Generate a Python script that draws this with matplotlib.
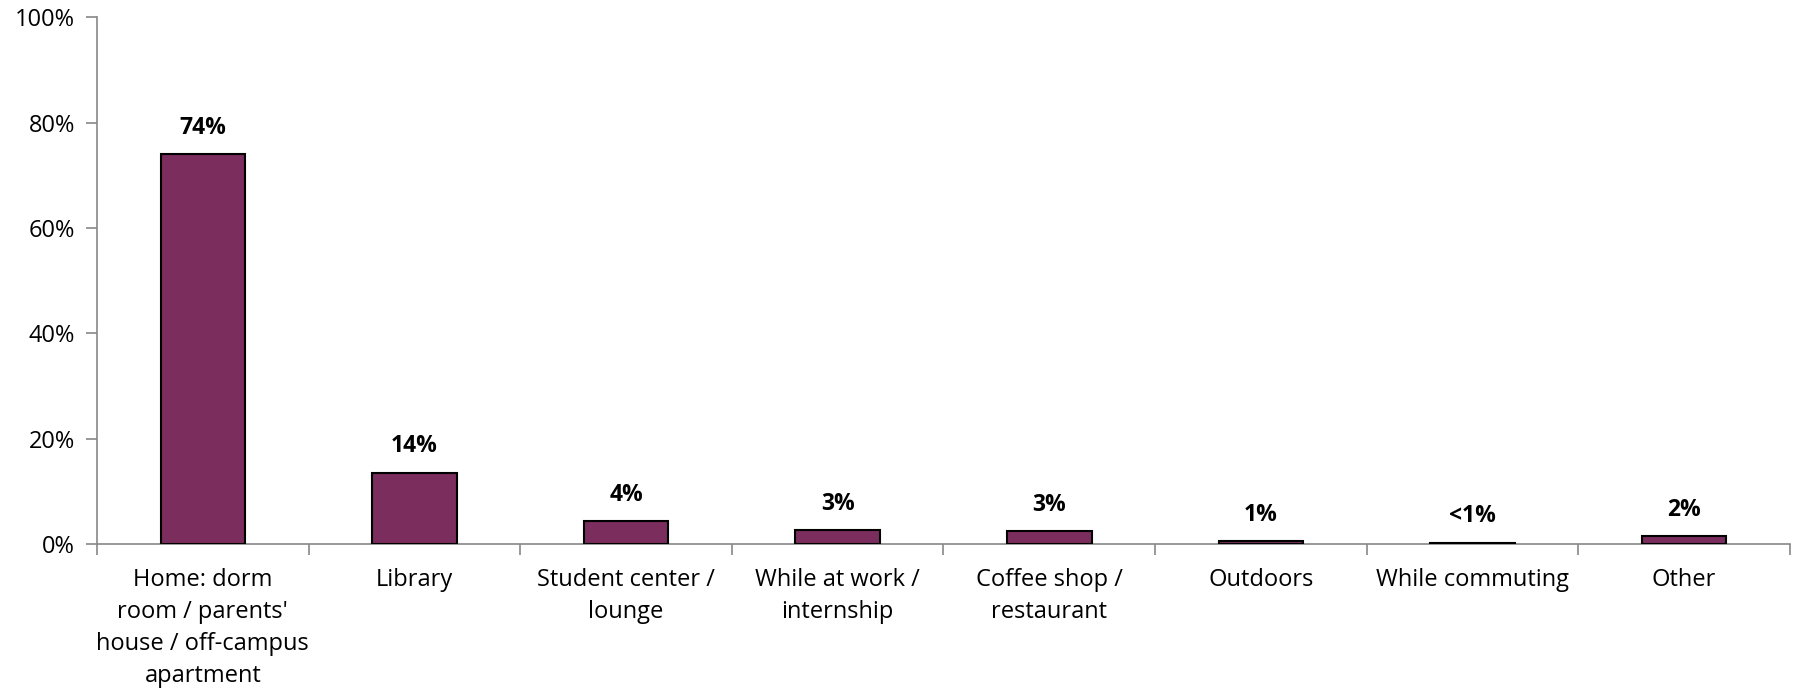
import matplotlib.pyplot as plt
import numpy as np

# Données
categories = ["Home: dorm\nroom / parents'\nhouse / off-campus\napartment",
              "Library", "Student center /\nlounge", "While at work /\ninternship",
              "Coffee shop /\nrestaurant", "Outdoors", "While commuting", "Other"]
values = [74, 13.6, 4.4, 2.7, 2.5, 0.6, 0.3, 1.5]
labels = ["74%", "14%", "4%", "3%", "3%", "1%", "<1%", "2%"]

plt.rcParams['font.family'] = ['Open Sans', 'DejaVu Sans']

fig = plt.figure(figsize=(17.97, 6.88), dpi=100)
ax = fig.add_axes([0.054, 0.209, 0.942, 0.766])

x = np.arange(len(categories)) + 0.5
ax.bar(x, values, width=0.4, color="#7B2D5E", edgecolor="black", linewidth=1.5, zorder=3)

for xi, v, lab in zip(x, values, labels):
    ax.annotate(lab, (xi, v), xytext=(0, 19), textcoords="offset points",
                ha="center", va="center", fontsize=16.5, fontweight="bold")

ax.set_xlim(0, len(categories))
ax.set_ylim(0, 100)
ax.set_yticks(np.arange(0, 101, 20))
ax.set_yticklabels([f"{t}%" for t in range(0, 101, 20)], fontsize=17)

# traits de séparation entre catégories + libellés centrés
ax.set_xticks(np.arange(0, len(categories) + 1))
ax.set_xticklabels([])
ax.set_xticks(x, minor=True)
ax.set_xticklabels(categories, minor=True, fontsize=17, linespacing=1.45)
ax.tick_params(axis="x", which="minor", length=0, pad=17)
ax.tick_params(axis="x", which="major", length=8, color="#888888", width=1.2)
ax.tick_params(axis="y", length=8, color="#888888", width=1.2, pad=8)

for s in ["top", "right"]:
    ax.spines[s].set_visible(False)
for s in ["left", "bottom"]:
    ax.spines[s].set_color("#888888")
    ax.spines[s].set_linewidth(1.2)

plt.savefig("out.png", dpi=100)
